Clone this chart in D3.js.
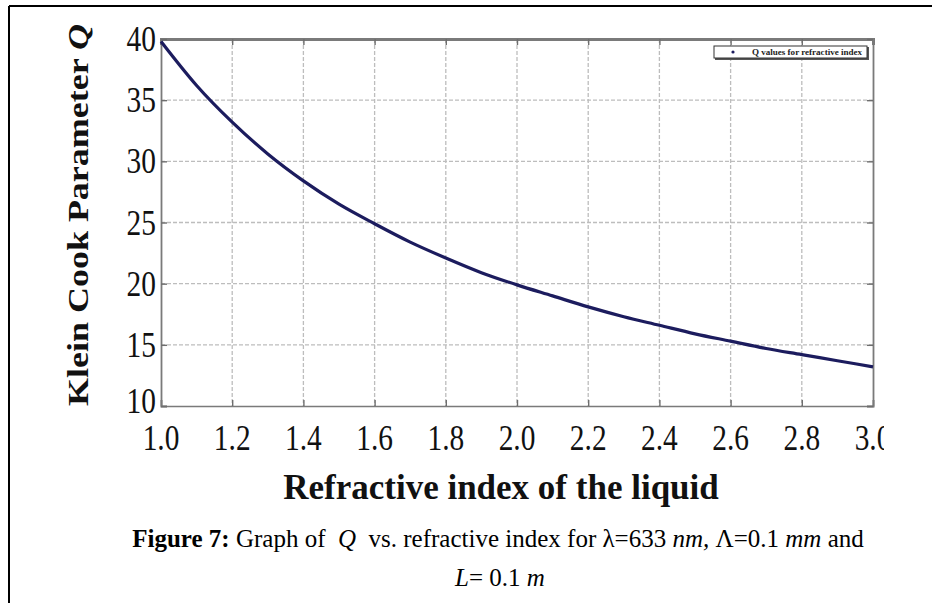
<!DOCTYPE html>
<html>
<head>
<meta charset="utf-8">
<script src="https://cdn.jsdelivr.net/npm/d3@7"></script>
<style>
    body { margin: 0; background: #fff; }
    svg text { font-family: "Liberation Serif", "Times New Roman", serif; white-space: pre; }
</style>
</head>
<body>
<svg id="canvas" width="932" height="603"></svg>
<script>
// Refractive index (x) and Klein Cook parameter Q
const refractiveIndex = [1.0, 1.1, 1.2, 1.3, 1.4, 1.5, 1.6, 1.7, 1.8, 1.9, 2.0,
    2.1, 2.2, 2.3, 2.4, 2.5, 2.6, 2.7, 2.8, 2.9, 3.0];
const qValues = [39.8, 36.2, 33.2, 30.6, 28.4, 26.5, 24.9, 23.4, 22.1, 20.9, 19.9,
    19.0, 18.1, 17.3, 16.6, 15.9, 15.3, 14.7, 14.2, 13.7, 13.2];
const xTicks = [1.0, 1.2, 1.4, 1.6, 1.8, 2.0, 2.2, 2.4, 2.6, 2.8, 3.0];
const yTicks = [10, 15, 20, 25, 30, 35, 40];

const svg = d3.select("#canvas");
const plot = { left: 161, right: 873, top: 39, bottom: 406 };

// page frame (top and left rule of the figure box)
svg.append("line").attr("x1", 9).attr("y1", 6).attr("x2", 932).attr("y2", 6)
    .attr("stroke", "#000").attr("stroke-width", 2);
svg.append("line").attr("x1", 9).attr("y1", 6).attr("x2", 9).attr("y2", 603)
    .attr("stroke", "#000").attr("stroke-width", 2);

const x = d3.scaleLinear().domain([1, 3]).range([plot.left, plot.right]);
const y = d3.scaleLinear().domain([10, 40]).range([plot.bottom, plot.top]);

svg.append("clipPath").attr("id", "figClip")
    .append("rect").attr("x", 0).attr("y", 0).attr("width", 884).attr("height", 603);

const g = svg.append("g").attr("clip-path", "url(#figClip)");

// grid
g.append("g").selectAll("line").data(xTicks.slice(1, -1)).join("line")
    .attr("x1", d => x(d)).attr("x2", d => x(d))
    .attr("y1", plot.top).attr("y2", plot.bottom)
    .attr("stroke", "#bdbdbd").attr("stroke-width", 1.3).attr("stroke-dasharray", "4,2");
g.append("g").selectAll("line").data(yTicks.slice(1, -1)).join("line")
    .attr("y1", d => y(d)).attr("y2", d => y(d))
    .attr("x1", plot.left).attr("x2", plot.right)
    .attr("stroke", "#bdbdbd").attr("stroke-width", 1.3).attr("stroke-dasharray", "4,2");

// axes with inward ticks
const xAxisB = d3.axisBottom(x).tickValues(xTicks).tickSize(-6).tickFormat("");
const xAxisT = d3.axisTop(x).tickValues(xTicks).tickSize(-6).tickFormat("");
const yAxisL = d3.axisLeft(y).tickValues(yTicks).tickSize(-6).tickFormat("");
const yAxisR = d3.axisRight(y).tickValues(yTicks).tickSize(-6).tickFormat("");
[
    [xAxisB, `translate(0,${plot.bottom})`, 1.6],
    [xAxisT, `translate(0,${plot.top})`, 3],
    [yAxisL, `translate(${plot.left},0)`, 1.8],
    [yAxisR, `translate(${plot.right},0)`, 1.8],
].forEach(([ax, tr, w]) => {
    const a = g.append("g").attr("transform", tr).call(ax);
    a.select(".domain").attr("stroke", "#7a7a7a").attr("stroke-width", w);
    a.selectAll(".tick line").attr("stroke", "#6e6e6e").attr("stroke-width", 1.4);
});

// curve
const line = d3.line()
    .x((d, i) => x(refractiveIndex[i]))
    .y(d => y(d))
    .curve(d3.curveMonotoneX);
g.append("path").datum(qValues)
    .attr("d", line)
    .attr("fill", "none")
    .attr("stroke", "#1c1c5e")
    .attr("stroke-width", 3.2);

// tick labels
g.append("g").selectAll("text").data(xTicks).join("text")
    .attr("transform", d => `translate(${x(d)},450) scale(0.84,1)`)
    .attr("text-anchor", "middle")
    .attr("font-size", 35)
    .attr("fill", "#111")
    .text(d => d.toFixed(1));
// lowest label sits a little higher so it clears the x labels
g.append("g").selectAll("text").data(yTicks).join("text")
    .attr("transform", d => `translate(156,${y(d) + (d === 10 ? 7 : 12)}) scale(0.84,1)`)
    .attr("text-anchor", "end")
    .attr("font-size", 35)
    .attr("fill", "#111")
    .text(d => d);

// axis titles
const yTitle = g.append("text")
    .attr("transform", "translate(88,215) rotate(-90) scale(1,0.84)")
    .attr("text-anchor", "middle")
    .attr("font-size", 36)
    .attr("font-weight", "bold")
    .attr("fill", "#111");
yTitle.append("tspan").text("Klein Cook Parameter ");
yTitle.append("tspan").attr("font-style", "italic").text("Q");

g.append("text")
    .attr("x", 501).attr("y", 499)
    .attr("text-anchor", "middle")
    .attr("font-size", 35)
    .attr("font-weight", "bold")
    .attr("fill", "#111")
    .text("Refractive index of the liquid");

// legend
const legend = g.append("g").attr("transform", "translate(714,46)");
legend.append("rect").attr("x", 1).attr("y", 1).attr("width", 154).attr("height", 13)
    .attr("fill", "#555");
legend.append("rect").attr("width", 153).attr("height", 12)
    .attr("fill", "#fff").attr("stroke", "#333").attr("stroke-width", 1);
legend.append("circle").attr("cx", 19).attr("cy", 6).attr("r", 1.6).attr("fill", "#1c1c5e");
legend.append("text").attr("x", 38).attr("y", 9)
    .attr("font-family", "Liberation Sans, Arial, sans-serif")
    .attr("font-size", 8).attr("font-weight", "bold").attr("fill", "#222")
    .attr("textLength", 110).attr("lengthAdjust", "spacingAndGlyphs")
    .text("Q values for refractive index");

// caption
const cap = svg.append("text")
    .attr("x", 498).attr("y", 547)
    .attr("text-anchor", "middle")
    .attr("font-size", 25)
    .attr("fill", "#000");
cap.append("tspan").attr("font-weight", "bold").text("Figure 7:");
cap.append("tspan").text(" Graph of  ");
cap.append("tspan").attr("font-style", "italic").text("Q");
cap.append("tspan").text("  vs. refractive index for λ=633 ");
cap.append("tspan").attr("font-style", "italic").text("nm,");
cap.append("tspan").text(" Λ=0.1 ");
cap.append("tspan").attr("font-style", "italic").text("mm");
cap.append("tspan").text(" and");

const cap2 = svg.append("text")
    .attr("x", 500).attr("y", 586)
    .attr("text-anchor", "middle")
    .attr("font-size", 25)
    .attr("fill", "#000");
cap2.append("tspan").attr("font-style", "italic").text("L");
cap2.append("tspan").text("= 0.1 ");
cap2.append("tspan").attr("font-style", "italic").text("m");
</script>
</body>
</html>
